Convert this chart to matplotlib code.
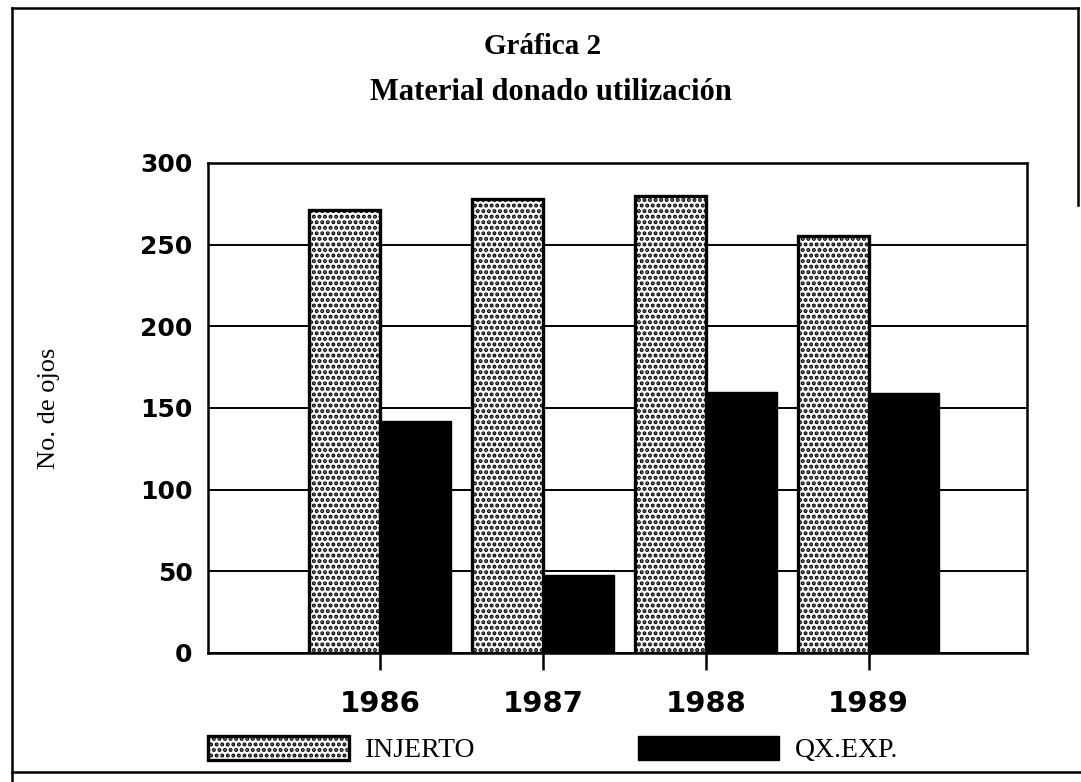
"""
Gráfica 2 - Material donado utilización
"""
import numpy as np
import matplotlib
matplotlib.use('Agg')
import matplotlib.pyplot as plt
from matplotlib.lines import Line2D

plt.rcParams['hatch.linewidth'] = 2.0
plt.rcParams['hatch.color'] = 'black'

years = ['1986', '1987', '1988', '1989']
injerto = [271, 278, 280, 255]
qx_exp = [142, 48, 160, 159]
y_ticks = [0, 50, 100, 150, 200, 250, 300]

SERIF = 'Liberation Serif'
SANS = 'DejaVu Sans'

fig = plt.figure(figsize=(10.81, 7.82), dpi=100)
ax = fig.add_axes([0.1924, 0.165, 0.758, 0.6266])

x = np.arange(len(years))
w = 0.435
b1 = ax.bar(x, injerto, width=-w, align='edge', color='white', edgecolor='black',
            linewidth=2.4, hatch='...', label='INJERTO', zorder=3)
b2 = ax.bar(x, qx_exp, width=w, align='edge', color='black', edgecolor='black',
            linewidth=1, label='QX.EXP.', zorder=3)

ax.set_xlim(-1.057, 3.975)
ax.set_ylim(0, 300)
ax.set_yticks(y_ticks)
ax.set_yticklabels([str(v) for v in y_ticks], fontsize=18, fontweight='bold', family=SANS)
ax.set_xticks(x)
ax.set_xticklabels(years, fontsize=21, fontweight='bold', family=SANS)
ax.tick_params(axis='y', length=0, pad=11)
ax.tick_params(axis='x', length=12, width=1.8, direction='out', pad=15)

ax.set_axisbelow(True)
ax.yaxis.grid(True, color='black', linewidth=1.4)
for s in ax.spines.values():
    s.set_linewidth(1.8)
    s.set_color('black')

ax.set_ylabel('No. de ojos', fontsize=19, family=SERIF)
ax.yaxis.set_label_coords(-0.180, 0.5)

fig.text(0.502, 0.940, 'Gráfica 2', ha='center', va='center',
         fontsize=21, fontweight='bold', family=SERIF)
fig.text(0.51, 0.882, 'Material donado utilización', ha='center', va='center',
         fontsize=22, fontweight='bold', family=SERIF)

leg = ax.legend(handles=[b1, b2], loc='center left', bbox_to_anchor=(-0.014, -0.197),
                ncol=2, frameon=False, prop={'family': SERIF, 'size': 20},
                handlelength=5.1, handleheight=1.0, handletextpad=0.55,
                columnspacing=5.85, borderaxespad=0)

# marco de la figura
frame = [([12, 12], [8, 782]), ([12, 1078], [8, 8]), ([1078, 1078], [8, 205]),
         ([12, 1081], [772, 772])]
for xs, ys in frame:
    fig.add_artist(Line2D([v / 1081 for v in xs], [1 - v / 782 for v in ys],
                          transform=fig.transFigure, color='black', linewidth=1.8))

fig.savefig('out.png', dpi=100)
